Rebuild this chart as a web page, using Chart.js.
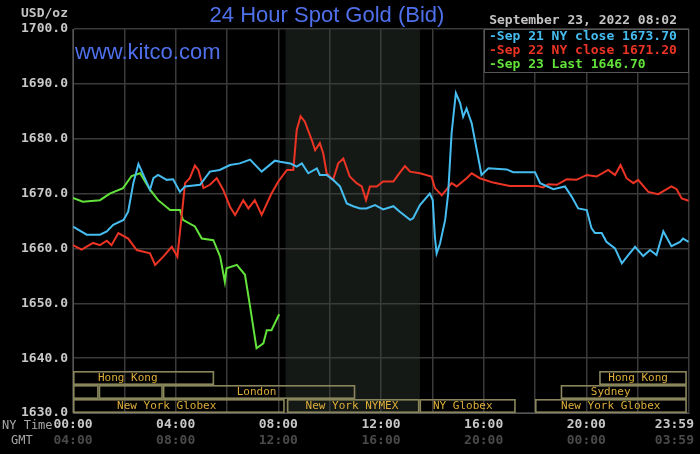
<!DOCTYPE html>
<html>
<head>
<meta charset="utf-8">
<script src="https://cdn.jsdelivr.net/npm/chart.js@4.4.0/dist/chart.umd.min.js"></script>
<style>
html,body{margin:0;padding:0;background:#000;}
#wrap{width:700px;height:454px;}
</style>
</head>
<body>
<div id="wrap"><canvas id="c" width="700" height="454"></canvas></div>
<script>
// ---- data (minutes after NY midnight, price USD/oz) ----
const sep21Times = [0,32,63,79,94,118,129,141,153,161,180,188,199,219,234,250,262,297,320,343,367,390,414,441,472,484,508,523,535,550,570,577,593,608,624,640,655,671,686,706,725,749,764,788,795,811,834,841,846,850,858,870,877,885,895,905,912,920,932,944,955,971,1014,1029,1080,1092,1123,1150,1166,1181,1201,1212,1220,1236,1247,1267,1283,1298,1314,1333,1349,1364,1380,1399,1419,1426,1439];
const sep21Prices = [1664.0,1662.5,1662.5,1663.1,1664.3,1665.2,1666.7,1671.9,1675.4,1674.0,1670.7,1672.8,1673.4,1672.5,1672.6,1670.3,1671.3,1671.6,1674.0,1674.3,1675.2,1675.5,1676.2,1674.0,1676.0,1675.8,1675.5,1674.9,1675.5,1673.7,1674.6,1673.4,1673.4,1672.5,1671.3,1668.2,1667.7,1667.3,1667.3,1667.9,1667.1,1667.7,1666.7,1665.2,1665.5,1667.9,1670.0,1668.8,1662.1,1659.1,1660.9,1665.2,1670.0,1681.0,1688.3,1686.5,1684.0,1685.5,1682.8,1677.9,1673.4,1674.6,1674.4,1673.9,1673.9,1671.9,1670.8,1671.3,1669.4,1667.3,1667.0,1663.7,1662.8,1662.8,1661.2,1660.0,1657.3,1658.8,1660.3,1658.6,1659.7,1658.8,1663.1,1660.4,1661.2,1661.8,1661.2];

const sep22Times = [0,20,47,63,79,90,106,129,149,180,192,211,231,244,262,273,285,293,305,320,336,351,367,379,398,410,425,441,464,480,500,515,523,532,542,558,566,577,585,593,608,620,632,647,663,675,685,694,710,725,749,760,776,788,811,838,846,862,873,885,897,920,932,951,982,1021,1084,1099,1111,1131,1154,1177,1201,1224,1251,1267,1280,1294,1310,1321,1345,1368,1399,1411,1423,1439];
const sep22Prices = [1660.6,1659.8,1661.0,1660.6,1661.4,1660.6,1662.8,1661.8,1659.7,1659.1,1657.0,1658.5,1660.3,1658.5,1671.9,1672.8,1675.1,1674.3,1671.0,1671.6,1672.8,1670.7,1667.6,1666.1,1668.8,1667.3,1668.8,1666.1,1670.0,1672.2,1674.3,1674.3,1681.6,1684.1,1683.1,1679.8,1677.9,1679.2,1677.3,1673.7,1672.5,1675.5,1676.4,1673.1,1671.9,1671.3,1668.8,1671.3,1671.3,1672.2,1672.2,1673.4,1675.0,1674.0,1673.7,1673.1,1671.0,1669.7,1670.7,1671.9,1671.3,1672.8,1673.7,1672.8,1672.0,1671.4,1671.4,1671.1,1671.7,1671.6,1672.6,1672.5,1673.4,1673.1,1674.3,1673.4,1675.2,1672.8,1671.9,1672.5,1670.3,1669.9,1671.3,1670.8,1669.1,1668.7];

const sep23Times = [0,23,63,86,117,137,157,180,199,227,250,257,285,301,328,344,355,359,383,402,414,429,445,453,464,482];
const sep23Prices = [1669.2,1668.5,1668.8,1670.0,1671.0,1673.2,1673.7,1670.7,1668.8,1667.0,1667.0,1665.2,1664.0,1661.8,1661.5,1658.5,1653.9,1656.4,1657.0,1655.2,1649.4,1641.8,1642.7,1645.1,1645.1,1648.0];

const seriesLabels = ['Sep 21 NY close 1673.70','Sep 22 NY close 1671.20','Sep 23 Last 1646.70'];

const yTicks = [1630,1640,1650,1660,1670,1680,1690,1700];
const nyTickTimes = [0,240,480,720,960,1200,1440];
const nyTickLabels = ['00:00','04:00','08:00','12:00','16:00','20:00','23:59'];
const gmtTickLabels = ['04:00','08:00','12:00','16:00','20:00','00:00','03:59'];

const sessionNames = ['Hong Kong','','','London','New York Globex','New York NYMEX','NY Globex','New York Globex','Sydney','Hong Kong'];
const sessionRows  = [0,1,1,1,2,2,2,2,1,0];
const sessionStart = [0,0,60,210,0,500,810,1080,1140,1230];
const sessionEnd   = [330,60,210,660,495,810,1035,1435,1435,1435];
const sessionLabelAt = [128,0,0,429,219,652,911,1257,1257,1321];
const pitStart = 497, pitEnd = 811;

const titleText = '24 Hour Spot Gold (Bid)';
const siteText = 'www.kitco.com';
const dateText = 'September 23, 2022 08:02';
const unitText = 'USD/oz';

// ---- styles ----
const COLORS = ['#46bdf0','#ec3424','#62e23a'];
const MONO = '"DejaVu Sans Mono", "Liberation Mono", monospace';

function pts(t, p){ return t.map((x,i)=>({x:x, y:p[i]})); }

const deco = {
  id:'deco',
  beforeDraw(chart){
    const {ctx, chartArea:a, scales:{x}} = chart;
    ctx.save();
    ctx.fillStyle = '#000';
    ctx.fillRect(0,0,chart.width,chart.height);
    ctx.fillStyle = '#151915';
    const x0 = x.getPixelForValue(pitStart), x1 = x.getPixelForValue(pitEnd);
    ctx.fillRect(x0, a.top, x1-x0, a.bottom-a.top);
    ctx.restore();
  },
  afterDatasetsDraw(chart){
    const {ctx, chartArea:a, scales:{x}} = chart;
    ctx.save();
    ctx.lineWidth = 1.6;
    ctx.strokeStyle = '#8a865c';
    ctx.font = '11px ' + MONO;
    ctx.textAlign = 'center';
    ctx.textBaseline = 'middle';
    const rowH = 14;
    for (let i=0;i<sessionNames.length;i++){
      const top = a.bottom - 42 + sessionRows[i]*rowH;
      const xs = x.getPixelForValue(sessionStart[i]);
      const xe = x.getPixelForValue(sessionEnd[i]);
      ctx.strokeRect(xs+0.8, top+0.8, xe-xs-1.6, rowH-1.6);
    }
    ctx.fillStyle = '#dcae3a';
    for (let i=0;i<sessionNames.length;i++){
      if(!sessionNames[i]) continue;
      const top = a.bottom - 42 + sessionRows[i]*rowH;
      ctx.fillText(sessionNames[i], x.getPixelForValue(sessionLabelAt[i]), top + rowH/2 + 0.5);
    }
    ctx.restore();
  },
  afterDraw(chart){
    const {ctx, chartArea:a, scales:{x}} = chart;
    ctx.save();
    // title
    ctx.fillStyle = '#4f70ea';
    ctx.font = '22px "Liberation Sans", Arial, sans-serif';
    ctx.textAlign = 'center';
    ctx.textBaseline = 'middle';
    ctx.fillText(titleText, 327, 16);
    ctx.textAlign = 'left';
    ctx.fillText(siteText, 75, 53);
    // unit + date
    ctx.font = 'bold 13px ' + MONO;
    ctx.fillStyle = '#c4c4c4';
    ctx.textAlign = 'right';
    ctx.fillText(unitText, 68, 14);
    ctx.fillText(dateText, 677, 21);
    // legend box
    const lx = 484, ly = a.top, lw = a.right - lx, lh = 43;
    ctx.fillStyle = '#000';
    ctx.fillRect(lx, ly, lw, lh);
    ctx.strokeStyle = '#555';
    ctx.lineWidth = 1;
    ctx.strokeRect(lx+0.5, ly+0.5, lw-1, lh);
    ctx.textAlign = 'left';
    for (let i=0;i<seriesLabels.length;i++){
      ctx.fillStyle = COLORS[i];
      ctx.fillText('-' + seriesLabels[i], 489, ly + 7.5 + i*14);
    }
    // x labels
    ctx.textAlign = 'center';
    ctx.font = 'bold 13px ' + MONO;
    for (let i=0;i<nyTickTimes.length;i++){
      let px = x.getPixelForValue(nyTickTimes[i]);
      const w = ctx.measureText(nyTickLabels[i]).width;
      if (px + w/2 > chart.width - 6) px = chart.width - 6 - w/2;
      ctx.fillStyle = '#c8c8c8';
      ctx.fillText(nyTickLabels[i], px, a.bottom + 12);
      ctx.fillStyle = '#4a4a4a';
      ctx.fillText(gmtTickLabels[i], px, a.bottom + 28);
    }
    ctx.font = '12px ' + MONO;
    ctx.fillStyle = '#a8a8a8';
    ctx.textAlign = 'left';
    ctx.fillText('NY Time', 2, a.bottom + 13);
    ctx.fillText('GMT', 11, a.bottom + 28);
    ctx.restore();
  }
};

new Chart(document.getElementById('c'), {
  type:'scatter',
  data:{
    datasets:[
      {label:seriesLabels[0], data:pts(sep21Times, sep21Prices), borderColor:COLORS[0]},
      {label:seriesLabels[1], data:pts(sep22Times, sep22Prices), borderColor:COLORS[1]},
      {label:seriesLabels[2], data:pts(sep23Times, sep23Prices), borderColor:COLORS[2]}
    ].map(d=>Object.assign(d,{showLine:true, pointRadius:0, borderWidth:2, tension:0, fill:false}))
  },
  options:{
    responsive:false,
    animation:false,
    devicePixelRatio:1,
    layout:{padding:{top:29, right:11, left:0, bottom:0}},
    plugins:{legend:{display:false}, tooltip:{enabled:false}, title:{display:false}},
    scales:{
      x:{
        type:'linear', min:0, max:1440,
        ticks:{display:false, stepSize:120},
        grid:{color:'#3a3a3a', lineWidth:1.5, drawTicks:false},
        border:{color:'#555'},
        afterFit(s){ s.height = 41; }
      },
      y:{
        min:1630, max:1700,
        afterBuildTicks(s){ s.ticks = yTicks.map(v=>({value:v})); },
        ticks:{
          callback:v=>Number(v).toFixed(1),
          color:'#c8c8c8',
          font:{family:'DejaVu Sans Mono', size:13, weight:'bold'},
          padding:5
        },
        grid:{color:'#3a3a3a', lineWidth:1.5, drawTicks:false},
        border:{color:'#555'},
        afterFit(s){ s.width = 73; }
      }
    }
  },
  plugins:[deco]
});
</script>
</body>
</html>
